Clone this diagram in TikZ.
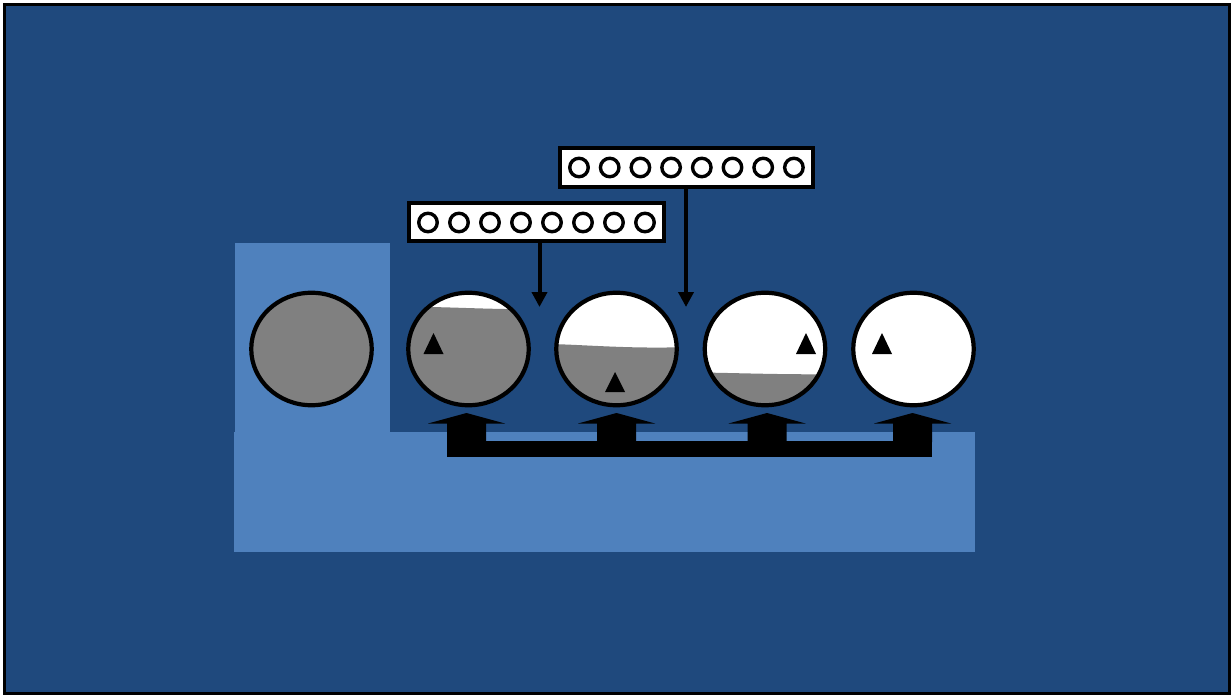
\documentclass[tikz,border=0pt]{standalone}
\usetikzlibrary{shapes.geometric,arrows.meta}
\definecolor{darkbg}{HTML}{1F497D}
\definecolor{lightbg}{HTML}{4F81BD}
\definecolor{liq}{HTML}{808080}
\begin{document}
\begin{tikzpicture}[x=1pt,y=-1pt,
  tank/.style={draw=black,line width=4.2pt,ellipse,minimum width=120.5pt,minimum height=112.5pt,inner sep=0pt},
  panel/.style={draw=black,fill=white,line width=3.6pt,inner sep=0pt,rectangle},
  led/.style={draw=black,fill=white,line width=3.4pt,circle,minimum size=18.5pt,inner sep=0pt},
  conn/.style={draw=black,line width=4pt,-{Triangle[width=15pt,length=15pt]}},
  trimark/.style={fill=black},
  pump/.style={fill=black}]
\useasboundingbox (0,0) rectangle (1232,695);
\draw[fill=darkbg,line width=3pt] (4.5,5) rectangle (1229,693);
% light blue L-shaped base
\fill[lightbg] (235,243) rectangle (390,433);
\fill[lightbg] (234,432) rectangle (975,552);
% vessel contents
\begin{scope}
  \clip (311.5,349) ellipse [x radius=61, y radius=57];
  \fill[liq] (240,280) rectangle (390,420);
\end{scope}
\begin{scope}
  \clip (468.5,349) ellipse [x radius=61, y radius=57];
  \fill[white] (400,280) rectangle (540,420);
  \fill[liq] (400,307) .. controls (440,306) and (490,310) .. (540,309) -- (540,420) -- (400,420) -- cycle;
\end{scope}
\begin{scope}
  \clip (616.5,349) ellipse [x radius=61, y radius=57];
  \fill[white] (550,280) rectangle (690,420);
  \fill[liq] (550,344) .. controls (590,345) and (630,349) .. (690,347) -- (690,420) -- (550,420) -- cycle;
\end{scope}
\begin{scope}
  \clip (765,349) ellipse [x radius=61, y radius=57];
  \fill[white] (700,280) rectangle (840,420);
  \fill[liq] (700,372.5) .. controls (740,373) and (790,375) .. (840,374) -- (840,420) -- (700,420) -- cycle;
\end{scope}
\begin{scope}
  \clip (913.5,349) ellipse [x radius=61, y radius=57];
  \fill[white] (850,280) rectangle (990,420);
\end{scope}
% vessel outlines
\node[tank] (t1) at (311.5,349) {};
\node[tank] (t2) at (468.5,349) {};
\node[tank] (t3) at (616.5,349) {};
\node[tank] (t4) at (765,349) {};
\node[tank] (t5) at (913.5,349) {};
% triangles
\fill[trimark] (423.5,354) -- (433.5,333) -- (443.5,354) -- cycle;
\fill[trimark] (605,392) -- (615,372) -- (625,392) -- cycle;
\fill[trimark] (796,354) -- (806,333) -- (816,354) -- cycle;
\fill[trimark] (872,354) -- (882,333) -- (892,354) -- cycle;
% pumping manifold
\fill[pump] (447,441) rectangle (932,457);
\foreach \c in {466.5,616.5,767,912.5}{
  \fill[pump] (\c-19.5,442) -- (\c-19.5,423.5) -- (\c-38.5,423.5) -- (\c,413) -- (\c+38.5,423.5) -- (\c+19.5,423.5) -- (\c+19.5,442) -- cycle;
}
% panels
\node[panel,minimum width=254.5pt,minimum height=38.5pt] (p1) at (536.5,222) {};
\node[panel,minimum width=252.5pt,minimum height=39pt] (p2) at (686.5,167.5) {};
\foreach \k in {0,...,7}{
  \node[led] (a\k) at (428+31*\k,222.5) {};
  \node[led] (b\k) at (579+30.7*\k,167.5) {};
}
% connectors
\coordinate (e1) at (539.5,307);
\coordinate (e2) at (686,307);
\draw[conn] (p1.south -| e1) -- (e1);
\draw[conn] (p2.south -| e2) -- (e2);
\end{tikzpicture}
\end{document}
